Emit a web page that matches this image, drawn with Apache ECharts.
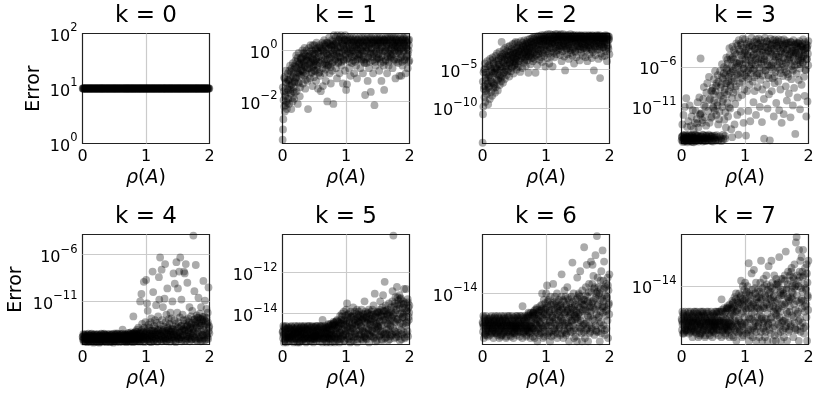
<!DOCTYPE html>
<html>
<head>
<meta charset="utf-8">
<style>html,body{margin:0;padding:0;background:#fff}#chart{width:822px;height:398px}</style>
<script src="https://cdn.jsdelivr.net/npm/echarts@6/dist/echarts.min.js"></script>
</head>
<body>
<div id="chart"></div>
<script>
// spectral radius, shared by all eight panels (20 rows of 16, one row per 0.1)
const rho = [
.002,.008,.013,.021,.026,.031,.037,.044,.052,.058,.064,.069,.075,.083,.089,.096,
.103,.107,.115,.119,.128,.134,.139,.146,.151,.159,.163,.172,.178,.184,.191,.197,
.204,.209,.216,.223,.227,.236,.241,.247,.254,.261,.266,.272,.281,.286,.293,.298,
.301,.309,.313,.322,.326,.333,.342,.347,.352,.358,.365,.371,.379,.384,.392,.399,
.402,.406,.417,.421,.429,.433,.441,.448,.453,.462,.466,.473,.478,.487,.491,.498,
.503,.511,.514,.522,.529,.536,.539,.548,.552,.559,.567,.571,.578,.586,.593,.597,
.604,.608,.617,.628,.631,.637,.643,.651,.656,.662,.669,.674,.682,.688,.694,.699,
.705,.711,.718,.723,.729,.734,.742,.746,.755,.761,.767,.773,.778,.784,.792,.798,
.801,.809,.816,.821,.827,.835,.841,.847,.853,.858,.864,.872,.879,.886,.891,.897,
.903,.908,.913,.922,.928,.933,.939,.946,.952,.957,.966,.971,.977,.984,.989,.996,
1.002,1.009,1.016,1.021,1.027,1.034,1.038,1.047,1.052,1.058,1.066,1.072,1.078,1.083,1.091,1.097,
1.104,1.108,1.113,1.122,1.129,1.133,1.141,1.147,1.152,1.159,1.164,1.173,1.177,1.186,1.191,1.198,
1.203,1.209,1.217,1.222,1.226,1.234,1.241,1.246,1.253,1.262,1.267,1.272,1.279,1.287,1.292,1.297,
1.301,1.308,1.314,1.321,1.328,1.336,1.341,1.347,1.354,1.359,1.363,1.372,1.378,1.385,1.391,1.399,
1.402,1.407,1.416,1.422,1.427,1.433,1.442,1.448,1.453,1.461,1.466,1.471,1.479,1.486,1.492,1.496,
1.503,1.511,1.516,1.523,1.528,1.534,1.539,1.548,1.552,1.558,1.567,1.572,1.577,1.584,1.593,1.598,
1.601,1.609,1.614,1.622,1.627,1.636,1.642,1.647,1.651,1.659,1.663,1.672,1.678,1.685,1.691,1.697,
1.703,1.708,1.717,1.721,1.729,1.733,1.741,1.746,1.754,1.762,1.766,1.773,1.779,1.784,1.792,1.798,
1.802,1.809,1.813,1.822,1.826,1.835,1.841,1.847,1.852,1.858,1.867,1.871,1.878,1.886,1.891,1.897,
1.904,1.908,1.915,1.921,1.928,1.934,1.939,1.946,1.953,1.961,1.965,1.972,1.978,1.984,1.991,1.998
];
// more points inside the dense clouds (20 rows of 10)
const rhoCore = [
.005,.016,.028,.041,.048,.056,.067,.072,.086,.093,
.111,.124,.131,.143,.155,.167,.175,.181,.188,.194,
.206,.219,.231,.244,.251,.258,.269,.278,.289,.295,
.305,.318,.329,.338,.345,.356,.368,.375,.388,.395,
.411,.425,.437,.445,.457,.469,.476,.483,.494,.499,
.507,.518,.526,.533,.544,.556,.563,.575,.582,.591,
.612,.622,.634,.647,.659,.666,.677,.685,.691,.697,
.708,.715,.726,.738,.749,.758,.769,.776,.788,.795,
.805,.812,.824,.832,.844,.856,.868,.875,.883,.894,
.905,.917,.925,.936,.943,.955,.962,.974,.981,.992,
1.006,1.013,1.024,1.031,1.043,1.055,1.063,1.075,1.086,1.094,
1.106,1.117,1.126,1.138,1.144,1.156,1.168,1.179,1.183,1.195,
1.206,1.214,1.229,1.238,1.249,1.257,1.264,1.276,1.284,1.294,
1.304,1.317,1.325,1.332,1.344,1.356,1.367,1.375,1.388,1.395,
1.405,1.413,1.425,1.438,1.445,1.456,1.468,1.476,1.483,1.494,
1.507,1.514,1.526,1.531,1.543,1.555,1.563,1.575,1.587,1.595,
1.604,1.617,1.625,1.633,1.644,1.656,1.667,1.675,1.688,1.694,
1.705,1.714,1.724,1.737,1.743,1.757,1.764,1.776,1.787,1.795,
1.806,1.816,1.824,1.832,1.844,1.855,1.864,1.875,1.883,1.894,
1.906,1.912,1.925,1.931,1.943,1.956,1.968,1.975,1.987,1.995
];

// log10 of the error for each k, same order as rho
const err0 = [
1,1,1,1,1,1,1,1,1,1,1,1,1,1,1,1,1,1,1,1,1,1,1,1,1,1,1,1,1,1,1,1,1,1,1,1,1,1,1,1,
1,1,1,1,1,1,1,1,1,1,1,1,1,1,1,1,1,1,1,1,1,1,1,1,1,1,1,1,1,1,1,1,1,1,1,1,1,1,1,1,
1,1,1,1,1,1,1,1,1,1,1,1,1,1,1,1,1,1,1,1,1,1,1,1,1,1,1,1,1,1,1,1,1,1,1,1,1,1,1,1,
1,1,1,1,1,1,1,1,1,1,1,1,1,1,1,1,1,1,1,1,1,1,1,1,1,1,1,1,1,1,1,1,1,1,1,1,1,1,1,1,
1,1,1,1,1,1,1,1,1,1,1,1,1,1,1,1,1,1,1,1,1,1,1,1,1,1,1,1,1,1,1,1,1,1,1,1,1,1,1,1,
1,1,1,1,1,1,1,1,1,1,1,1,1,1,1,1,1,1,1,1,1,1,1,1,1,1,1,1,1,1,1,1,1,1,1,1,1,1,1,1,
1,1,1,1,1,1,1,1,1,1,1,1,1,1,1,1,1,1,1,1,1,1,1,1,1,1,1,1,1,1,1,1,1,1,1,1,1,1,1,1,
1,1,1,1,1,1,1,1,1,1,1,1,1,1,1,1,1,1,1,1,1,1,1,1,1,1,1,1,1,1,1,1,1,1,1,1,1,1,1,1
];
const err1 = [
-3.5,-3.1,-2.7,-1.6,-2.2,-1.1,-2.4,-1.8,-.8,-2,-1.3,-2.3,-1.5,-.9,-1.9,-1.2,
-2.1,-.8,-1.4,-.6,-1.7,-1,-2.3,-.7,-1.3,-2,-.5,-1.6,-.9,-1.9,-.6,-1.2,
-.4,-1.1,-.2,-1.6,-.7,-.3,-2.1,-.9,-.1,-1.3,-.5,-1.8,-.8,-.3,-1,-.6,
-.3,-.8,0,-1.3,-.5,-.1,-1,.1,-.6,-1.5,-.2,-.9,0,-.4,-1.2,-.7,
-2.3,-.4,.1,-.7,-.2,-1.1,.2,-.5,-.9,0,-.3,-1.4,.2,-.6,-.1,-.8,
.2,-.4,-.8,0,-1.2,.3,-.3,-.6,.1,-1.5,-.1,-.9,.2,-.5,-1,0,
-1.6,.1,-.4,.3,-.7,-1.4,0,-.2,.4,-.9,-.5,.2,-1.2,-.1,.3,-.6,
-2,.3,-.2,-.6,.1,.5,-.9,-.3,.2,-1.3,0,.4,-.5,-.8,.2,-.1,
-2.1,.6,.2,-.4,0,.5,-.7,.3,-.2,-1.1,.6,.1,-.5,.4,-.1,-.9,
.5,.1,-.3,.6,-.6,.3,-.1,.5,-1.3,.2,-.4,.4,0,-.8,.6,-.2,
-1.55,.4,-1.33,.1,.5,-.3,.2,-.7,.4,-.1,.5,-1,.3,0,-.5,.2,
.5,0,-.4,.3,-.9,.4,.1,-.2,.5,-.6,.2,-1.1,.4,0,-.3,.3,
.1,.5,-.2,.3,-.7,.4,0,-.4,.5,.2,-.9,.3,-.1,.5,-.5,.2,
-1.75,.4,0,-.5,.3,.5,-1.2,.1,-.3,.4,-.7,.2,.5,-.1,-1.63,.3,
.5,.1,-.4,.3,-.9,.4,-.1,-2.15,.5,.2,-.6,.4,0,-.3,.3,.5,
.2,-.3,.4,-.8,.5,0,.3,-.5,.4,-1.2,.1,.5,-.2,.3,-.6,.4,
-1.55,.4,0,.5,-.4,.2,.3,-.9,.5,-.1,.4,-.6,.2,.5,0,-.3,
.3,.5,-.2,.1,.4,-.7,.5,.2,-.4,.3,0,.5,-1.1,.2,.4,-.1,
.5,.1,.3,-.5,.4,0,-1,.2,.5,-.3,.3,-1,.4,.1,-.6,.5,
.3,0,.5,-.4,.2,.4,-.9,.1,.5,-.2,.3,-.7,.4,0,.2,-.4
];
const err2 = [
-14.5,-10.8,-9.8,-7.5,-5,-8.6,-4.2,-9.2,-6.4,-7.8,-5.4,-8.2,-3.9,-6.8,-9.5,-5.9,
-7.2,-4.4,-8.8,-3.6,-6,-7.9,-4.9,-6.6,-8.4,-3.4,-5.5,-7.4,-4.1,-6.9,-5.2,-8,
-3.2,-7.3,-4.8,-6.3,-2.9,-5.6,-7.7,-3.8,-6.1,-4.3,-2.7,-7,-5.1,-3.3,-6.5,-4.6,
-1.4,-5.8,-3,-6.7,-4,-2.4,-5.3,-3.5,-6.2,-2.2,-4.5,-3.1,-5.7,-2.6,-4.2,-3.7,
-2,-4.9,-3.2,-5.9,-1.9,-4.1,-2.8,-5.2,-3.6,-2.3,-4.6,-1.7,-3.4,-5.5,-2.5,-3.9,
-1.6,-4.4,-2.9,-1.4,-3.7,-5,-2.1,-3.2,-1.5,-4.7,-2.6,-3.9,-1.8,-3,-5.3,-2.3,
-1.3,-3.5,-2.4,-4.8,-1.5,-3,-2,-4.1,-1.2,-2.7,-3.6,-1.7,-4.5,-2.2,-3.2,-1.4,
-3.8,-1.1,-2.6,-5.4,-1.6,-3.3,-2.1,-1,-4.3,-2.9,-1.4,-3.5,-.9,-2.4,-3.9,-1.8,
-.8,-2.8,-1.5,-3.6,-.7,-5.4,-2.2,-1.2,-3.2,-.8,-4.4,-1.9,-.6,-2.6,-1.3,-3.7,
-.7,-2.4,-1.1,-3.4,-.5,-1.8,-4,-.9,-2.9,-1.4,-.5,-3.2,-2,-.8,-4.6,-1.2,
-.5,-2.6,-1.1,-3.5,-.4,-1.7,-2.9,-.7,-4.2,-1.3,-.4,-2.2,-3.3,-.9,-1.6,-.5,
-4.6,-1.2,-.5,-2.8,-.8,-3.4,-1.5,-.4,-2.1,-.7,-3,-1.1,-.4,-2.5,-1.4,-.6,
-.8,-2.2,-.5,-3.1,-1.2,-.4,-1.9,-3.9,-.7,-2.6,-1,-.4,-1.6,-3.3,-.6,-2,
-5.1,-1.1,-.5,-2.4,-.8,-3,-1.4,-.5,-1.8,-3.6,-.7,-2.2,-1,-.4,-2.8,-1.3,
-.6,-1.7,-3.2,-.5,-2.3,-.9,-4.2,-1.2,-.5,-2.7,-.8,-1.5,-3.4,-.6,-2,-1,
-.5,-2.4,-.9,-1.5,-3.8,-.6,-2,-1.1,-.5,-2.8,-.8,-1.7,-3.2,-.6,-1.3,-2.2,
-.7,-1.9,-.5,-3.4,-1.1,-2.5,-.6,-1.5,-3.9,-.8,-2.1,-.5,-1.3,-3,-.7,-1.8,
-.6,-2.3,-1,-3.5,-.5,-1.6,-2.7,-.8,-5.1,-1.2,-.6,-2,-3.1,-.9,-1.5,-.5,
-1.1,-.6,-2.4,-.8,-3.6,-1.4,-.5,-2,-6.1,-.9,-2.9,-.6,-1.7,-3.3,-.7,-1.2,
-.8,-2.1,-.6,-1.4,-3.2,-.9,-.5,-2.6,-1.1,-3.9,-.7,-1.8,-.6,-2.3,-1,-3
];
const err3 = [
-15.2,-14.8,-13.2,-15.4,-14.6,-12,-15,-14.9,-11,-15.3,-14.5,-15.1,-9.9,-14.7,-13.5,-15.2,
-14.8,-12.8,-15.3,-14.5,-10.8,-15,-14.7,-13.4,-15.2,-12.2,-14.6,-15.4,-11.4,-14.9,-13.8,-15.1,
-15,-13,-14.5,-11.5,-15.3,-14.7,-12.5,-15,-10.4,-14.6,-13.6,-15.2,-9.8,-14.8,-12,-15.1,
-4.9,-14.7,-11.8,-15.2,-13,-14.5,-10,-15,-8.5,-14.9,-12.3,-15.3,-11,-14.6,-9.2,-15.1,
-14.8,-8,-15.2,-11.5,-14.5,-7.2,-13,-15,-10,-14.7,-9,-15.3,-12.2,-14.6,-8.6,-11,
-15,-7.5,-10.2,-14.6,-6.5,-9,-15.2,-12,-8,-14.8,-10.8,-7,-13.2,-15.1,-9.5,-11.6,
-14.7,-6.5,-9.6,-8.2,-15.3,-5.6,-11,-7.4,-14.5,-10,-6,-12.6,-8.8,-15,-7,-13.6,
-4.8,-8,-6.4,-10.5,-5.5,-12.2,-7.2,-9,-3.6,-6.8,-11.2,-8.5,-5,-13.8,-7.6,-14.8,
-3.4,-6.5,-9.2,-5,-7.8,-13.2,-4.2,-10.6,-6,-8.4,-3,-5.5,-12,-7,-9.8,-14.5,
-2.6,-5.5,-8,-4,-6.8,-11.6,-3.2,-7.4,-9.5,-5,-2.4,-6.2,-13,-4.5,-8.8,-7,
-2.5,-5,-14.6,-7.2,-3.6,-9,-4.4,-6.4,-11.5,-2.8,-5.8,-8.2,-3.2,-12.8,-6.8,-4.8,
-2.3,-5.6,-3.4,-7.8,-4.5,-10.4,-2.8,-6.2,-9,-3.7,-5.1,-12,-2.5,-7,-4.2,-8.5,
-3.1,-5.4,-2.4,-6.8,-4,-11,-3.4,-7.6,-2.6,-5,-12.9,-8.8,-3.8,-6.1,-2.9,-10,
-15,-4.6,-2.3,-6.4,-3.5,-8.2,-5.2,-2.7,-11.2,-4,-7,-3.1,-9.4,-5.8,-15.2,-3.6,
-2.4,-6,-4.3,-9,-3,-7.4,-2.6,-5.4,-12.2,-3.9,-8,-2.5,-6.6,-4.7,-10.5,-3.3,
-2.7,-5.7,-3.6,-7.8,-2.5,-4.8,-11.4,-3.1,-6.3,-8.8,-4,-2.6,-13,-5.2,-3.4,-7.1,
-3.6,-11.9,-2.5,-5.9,-4.3,-3,-8.4,-6.6,-2.7,-10.2,-3.8,-5,-7.2,-2.9,-9.3,-4.4,
-3.2,-5.5,-12.3,-2.8,-7.5,-4.1,-3.5,-6.3,-10.8,-2.6,-4.9,-8.6,-3.9,-5.8,-14.4,-3.1,
-4.2,-2.9,-6.8,-3.5,-9.8,-5.1,-3,-7.6,-4.4,-2.7,-11.3,-5.6,-3.3,-4.7,-8.2,-3.8,
-3.4,-5.4,-2.5,-4.6,-7.2,-3.7,-9.6,-4.1,-6.3,-3.1,-12.2,-5,-3.6,-10.3,-4.3,-2.7
];
const err4 = [
-14.8,-15.1,-14.5,-15.3,-14.9,-14.6,-15.2,-14.7,-15,-14.5,-15.3,-14.8,-15.1,-14.6,-15,-14.9,
-15.2,-14.6,-14.9,-15.3,-14.7,-15,-14.5,-15.2,-14.8,-15.1,-14.6,-15.4,-14.9,-14.7,-15.1,-14.5,
-14.8,-15.2,-14.6,-15,-14.9,-15.3,-14.5,-14.8,-15.1,-14.7,-15.4,-14.6,-15,-14.8,-15.2,-14.5,
-15,-14.7,-15.3,-14.6,-14.9,-15.1,-14.5,-15.2,-14.8,-14.6,-15,-15.3,-14.7,-14.9,-15.1,-14.5,
-14.7,-15.1,-14.9,-14.5,-15.3,-14.8,-15,-14.6,-15.2,-14.9,-14.5,-15.1,-14.7,-15.4,-14.8,-15,
-15.2,-14.6,-14.9,-15,-14.4,-15.3,-14.8,-14.5,-15.1,-14.7,-15,-14.6,-15.2,-14.9,-14.5,-15.1,
-14.8,-15,-14.5,-15.3,-14,-14.7,-15.1,-14.6,-14.9,-15.2,-14.5,-14.8,-15,-14.6,-15.3,-14.7,
-15,-14.6,-15.2,-14.4,-14.9,-15.1,-14.5,-14.8,-15.3,-14.3,-15,-14.7,-15.2,-14.5,-14.9,-14.4,
-12.6,-15,-14.4,-15.3,-14.7,-14.2,-15.1,-14.5,-14.9,-14,-15.2,-14.6,-13.8,-15,-14.4,-15.3,
-14.8,-11,-14.2,-15.1,-10.2,-14.6,-13.4,-15,-14.3,-14.8,-8.9,-13.8,-15.2,-14.5,-13.2,-14.9,
-8.7,-14.2,-11.2,-15.1,-12,-14.6,-13.5,-15,-13.8,-14.4,-15.3,-13.2,-14.7,-12.8,-15,-14.1,
-7.8,-14.5,-10,-15.2,-13.6,-14.8,-13,-14.3,-15,-11.4,-14.6,-13.3,-15.3,-14.1,-12.6,-14.9,
-8.4,-10.8,-14.4,-6.3,-13.5,-15.1,-14.7,-7.6,-13,-14.2,-11.6,-15,-13.7,-14.5,-10.7,-14.9,
-7,-13.2,-15.2,-12.4,-14.4,-9.6,-13.7,-15,-14.1,-12.9,-14.6,-13.4,-15.3,-12.2,-14.2,-14.8,
-12.8,-15.1,-11,-13.6,-14.5,-8,-14.9,-13,-9.1,-14.2,-15.2,-13.4,-6.8,-14.6,-12.2,-14.9,
-9.6,-13.2,-15,-7.8,-14.3,-12.7,-6.3,-14.8,-13.6,-10.8,-15.1,-14,-12.4,-14.6,-13,-7.8,
-13.4,-8,-15.2,-14.1,-7,-13,-14.7,-13.6,-9,-15,-12.8,-14.3,-13.2,-11.6,-14.9,-13.7,
-14.4,-12.6,-15.1,-13.3,-12,-14.7,-13.8,-3.95,-14.2,-9.9,-12.9,-15,-13.5,-7.1,-14.5,-12.5,
-13.8,-15.2,-12.7,-14.4,-10.6,-13.3,-14.8,-12.3,-15,-13.6,-11.6,-14.2,-12.9,-15.2,-13.1,-14.6,
-8.8,-13.6,-14.9,-12.6,-10.9,-14.3,-13.1,-15.1,-11.8,-14.6,-13.4,-12.2,-15,-9.5,-13.8,-14.4
];
const err5 = [
-14.9,-15.2,-14.6,-15.4,-15,-14.7,-15.3,-14.8,-15.1,-14.6,-15.4,-14.9,-15.2,-14.7,-15.1,-15,
-15.2,-14.7,-15,-15.3,-14.8,-15.1,-14.6,-15.2,-14.9,-15.1,-14.7,-15.4,-15,-14.8,-15.2,-14.6,
-14.9,-15.2,-14.7,-15,-15.1,-15.4,-14.6,-14.9,-15.2,-14.8,-15.4,-14.7,-15.1,-14.9,-15.3,-14.6,
-15,-14.8,-15.3,-14.7,-15,-15.2,-14.6,-15.2,-14.9,-14.7,-15.1,-15.4,-14.8,-15,-15.2,-14.6,
-14.8,-15.2,-15,-14.6,-15.3,-14.9,-15.1,-14.7,-15.2,-15,-14.6,-15.2,-14.8,-15.4,-14.9,-15.1,
-15.2,-14.7,-15,-15.1,-14.6,-15.3,-14.9,-14.6,-15.2,-14.8,-15.1,-14.7,-15.2,-15,-14.6,-15.2,
-14.9,-15.1,-14.6,-15.4,-14.3,-14.8,-15.2,-14.7,-15,-15.2,-14.6,-14.9,-15.1,-14.7,-15.4,-14.8,
-15,-14.7,-15.2,-14.5,-15,-15.2,-14.6,-14.9,-15.4,-14.5,-15.1,-14.8,-15.2,-14.6,-15,-14.5,
-14.4,-15.1,-14.6,-15.4,-14.8,-14.4,-15.2,-14.7,-15,-14.3,-15.3,-14.7,-14.4,-15.1,-14.6,-15.4,
-14.9,-14.1,-14.5,-15.2,-14.3,-14.8,-14,-15.1,-14.5,-15,-13.9,-14.3,-15.3,-14.7,-14.1,-15,
-13.8,-14.5,-13.5,-15.2,-14.2,-14.8,-14,-15.1,-14.4,-14.7,-15.4,-13.9,-14.9,-14.2,-15.1,-14.5,
-14.1,-14.7,-13.7,-15.3,-14.3,-15,-13.9,-14.6,-15.1,-14,-14.8,-13.8,-15.4,-14.4,-14.2,-15,
-13.9,-14.4,-14.8,-14.1,-15.2,-14.6,-15,-13.8,-14.3,-14.7,-14,-15.3,-14.2,-14.9,-13.4,-15.1,
-14.4,-13.9,-15.2,-14.2,-14.7,-14,-15,-14.3,-14.8,-13.8,-15.4,-14.5,-14.1,-15.1,-14.4,-13.9,
-14.8,-15.1,-13.8,-14.4,-14.9,-13.6,-15.2,-14.2,-13.03,-14.7,-15,-14,-14.5,-15.3,-13.9,-14.6,
-14.2,-14.7,-13.9,-15.1,-14.4,-13.8,-13.4,-15,-14.6,-14.1,-15.3,-13.7,-14.9,-13.1,-14.3,-15,
-13.9,-12.45,-15.2,-14.3,-13.6,-14.8,-14,-15,-13.8,-14.5,-15.3,-14.2,-13.5,-14.9,-14.1,-15.1,
-14.6,-13.7,-15,-14.2,-13.4,-12.9,-14.7,-10.2,-14,-15.2,-13.5,-14.4,-13.2,-14.9,-13.8,-15,
-12.7,-14.3,-13.2,-15.1,-13.6,-14.6,-13.1,-15.3,-14,-13.3,-14.8,-13.5,-15,-14.2,-13.7,-14.5,
-13.4,-14.9,-12.8,-14.2,-15.2,-13.5,-14.6,-12.8,-15,-13.9,-14.4,-13.3,-15.1,-13.7,-14.3,-13.6
];
const err6 = [
-14.9,-15.2,-14.7,-15.4,-15,-14.8,-15.3,-14.9,-15.1,-14.7,-15.3,-15,-15.2,-14.8,-15.1,-14.9,
-15.2,-14.8,-15,-15.3,-14.9,-15.1,-14.7,-15.2,-15,-15.1,-14.8,-15.4,-15,-14.9,-15.2,-14.7,
-15,-15.2,-14.8,-15.1,-14.9,-15.3,-14.7,-15,-15.2,-14.9,-15.4,-14.8,-15.1,-15,-15.3,-14.7,
-15.1,-14.9,-15.3,-14.8,-15,-15.2,-14.7,-15.2,-15,-14.8,-15.1,-15.4,-14.9,-15,-15.2,-14.7,
-14.9,-15.2,-15,-14.7,-15.3,-15,-15.1,-14.8,-15.2,-15,-14.7,-15.2,-14.9,-15.4,-15,-15.1,
-15.2,-14.8,-15,-15.1,-14.7,-15.3,-15,-14.7,-15.2,-14.9,-15.1,-14.8,-15.2,-15,-14.7,-15.2,
-15,-15.1,-14.7,-15.4,-14.4,-14.9,-15.2,-14.8,-15,-15.2,-14.7,-15,-15.1,-14.8,-15.3,-14.9,
-15.1,-14.7,-15.2,-14.6,-15,-15.2,-14.7,-15,-15.4,-14.6,-15.1,-14.9,-15.2,-14.7,-15.1,-14.6,
-14.6,-15.1,-14.7,-15.4,-14.9,-14.5,-15.2,-14.8,-15,-14.5,-15.5,-14.8,-14.6,-15.1,-14.7,-15.3,
-14.9,-14.4,-14.7,-15.2,-14.5,-15,-14,-15.1,-14.6,-15.4,-14.2,-14.8,-15.2,-14.5,-14.3,-15,
-14,-14.7,-13.75,-15.3,-14.4,-15,-14.2,-15.2,-14.6,-14.9,-15.5,-14.1,-15,-14.5,-15.2,-14.7,
-14.3,-14.9,-13.7,-15.3,-14.5,-15.1,-14.1,-14.8,-15.2,-14.3,-15,-14,-15.4,-14.6,-14.4,-15.1,
-14.2,-14.7,-15,-14.4,-15.3,-14.8,-14.1,-13.4,-14.5,-14.9,-14.2,-15.4,-14.6,-15,-13.9,-15.2,
-14.6,-14.1,-15.3,-14.4,-14.9,-13.8,-15.1,-14.5,-15,-14.2,-15.5,-14.7,-14.3,-15.2,-14.6,-14.1,
-14.9,-15.2,-13.03,-14.5,-15,-14,-15.4,-14.4,-14.7,-14.8,-15.1,-14.2,-14.6,-15.5,-13.5,-14.8,
-14.4,-14.9,-14,-15.2,-14.6,-14.1,-13.3,-15.1,-14.7,-14.3,-15.5,-13.9,-15,-14.5,-14.2,-15.2,
-12.55,-14.2,-15.4,-14.5,-13.8,-14.9,-13.1,-15.1,-14.1,-14.7,-15.5,-14.3,-13.7,-15,-14.4,-15.2,
-14.7,-13,-15.1,-14.3,-13.7,-13.1,-14.8,-13.45,-14.2,-15.3,-13.8,-14.5,-12.8,-15,-14,-15.2,
-12.2,-14.4,-13.5,-15.2,-13.8,-14.7,-14,-15.5,-14.2,-13.6,-14.9,-13.3,-15.1,-14.4,-12.65,-14.6,
-13.6,-15,-13,-14.4,-15.3,-13.8,-14.7,-13.7,-15.1,-14.1,-14.5,-13.5,-15.4,-13.9,-14.3,-13.4
];
const err7 = [
-14.9,-15.2,-14.7,-15.3,-15,-14.8,-15.3,-14.9,-15.1,-14.7,-15.2,-15,-15.2,-14.8,-15.1,-14.9,
-15.2,-14.7,-15,-15.3,-14.9,-15.1,-14.7,-15.2,-15,-15.1,-14.8,-15.4,-15,-14.9,-15.2,-14.7,
-15,-15.2,-14.7,-15.1,-14.9,-15.3,-14.7,-15,-15.2,-14.9,-15.4,-14.8,-15.1,-15,-15.3,-14.7,
-15.1,-14.8,-15.3,-14.7,-15,-15.2,-14.7,-15.2,-15,-14.8,-15.1,-15.4,-14.9,-15,-15.2,-14.7,
-14.9,-15.2,-15,-14.7,-15.3,-15,-15.1,-14.8,-15.2,-15,-14.7,-15.2,-14.9,-15.4,-15,-15.1,
-15.2,-14.8,-15,-15.1,-14.7,-15.3,-15,-14.7,-15.2,-14.9,-15.1,-14.7,-15.2,-15,-14.7,-15.2,
-15,-15.1,-14.7,-15.4,-14.36,-14.9,-15.2,-14.7,-15,-15.2,-14.6,-15,-15.1,-14.7,-15.3,-14.9,
-15.1,-14.6,-15.2,-14.6,-15,-15.2,-14.6,-15,-15.4,-14.5,-15.1,-14.8,-15.2,-14.6,-15,-14.5,
-14.4,-15.1,-14.6,-15.4,-14.8,-14.3,-15.2,-14.7,-15,-14.2,-15.5,-14.7,-14.4,-15.1,-14.6,-15.3,
-14.9,-14.2,-14.5,-15.2,-14.3,-15,-13.85,-15.1,-14.5,-15.4,-14,-14.7,-15.2,-14.4,-14.1,-15,
-13.9,-14.6,-14.2,-15.3,-14.4,-15,-14,-15.2,-14.6,-13.37,-15.5,-14.2,-14.9,-14.4,-15.2,-14.6,
-13.65,-14.9,-14.1,-15.4,-14.5,-15.1,-13.55,-14.7,-15.2,-14.2,-15,-13.9,-15.5,-14.6,-14.3,-15.1,
-14.1,-14.6,-15,-14.3,-15.4,-14.8,-13.9,-14.4,-13.3,-14.9,-14.2,-15.5,-14.6,-15,-13.8,-15.2,
-14.6,-14,-15.4,-14.3,-14.9,-13.7,-15.1,-14.5,-15.5,-14.1,-15,-13.45,-14.2,-15.2,-14.6,-14,
-14.9,-15.3,-13.3,-14.4,-15,-13.9,-15.5,-14.3,-14.7,-13.7,-15.1,-14.1,-14.6,-15.5,-13.8,-14.8,
-14.4,-14.9,-13.9,-15.3,-14.6,-14,-13.2,-15.1,-14.7,-14.2,-15.5,-13.8,-15,-14.5,-14.1,-15.2,
-13.8,-14.2,-15.4,-14.5,-13.7,-14.9,-13.05,-15.1,-14.1,-14.7,-15.5,-14.3,-13.6,-15,-14.4,-15.2,
-14.7,-13.7,-15.1,-14.3,-13.6,-13.5,-14.8,-14,-14.2,-15.4,-13.8,-14.5,-13.4,-15,-14,-15.2,
-12.8,-14.4,-12.65,-15.2,-13.7,-14.7,-14,-15.5,-13,-13.6,-14.9,-13.3,-15.1,-14.4,-13.2,-14.6,
-13.6,-15,-13,-14.4,-15.3,-13.7,-14.7,-13.5,-15.1,-14.1,-14.5,-13.4,-15.5,-13.9,-14.3,-13.3
];

// same again for rhoCore
const core1 = [
-1.45,-1.95,-1.05,-1.75,-2.15,-1.25,-1.65,-2.05,-1.15,-1.55,
-1.15,-1.55,-.85,-1.35,-1.85,-1.05,-1.45,-.75,-1.25,-1.65,
-.65,-1.05,-.45,-.85,-1.25,-.55,-.95,-1.45,-.35,-.75,
-.55,-.25,-.85,-.45,-.15,-.65,-1.15,-.35,-.75,-.25,
-.25,-.55,-.05,-.45,-.85,-.15,-.65,-.35,-1.05,-.45,
-.15,-.55,.05,-.35,-.75,-.05,-.45,-.25,-.85,.15,
-.25,.05,-.55,-.05,.25,-.35,-.75,.15,-.45,-.15,
-.35,.05,-.55,.25,-.15,-.65,.15,-.25,.35,-.45,
.25,-.15,.05,-.35,.35,-.05,.15,-.25,-.45,.42,
-.25,.15,-.45,.35,-.05,.25,-.35,.05,.42,-.15,
.15,-.35,.35,-.05,.25,-.45,.05,-.15,.42,-.25,
-.05,.35,-.25,.15,-.45,.25,.05,-.35,.42,-.15,
.25,-.15,.05,-.35,.35,-.05,.15,-.25,-.45,.42,
-.35,.15,-.05,.35,-.25,.05,.25,-.45,-.15,.42,
.05,-.25,.35,-.15,.25,-.45,-.05,.15,-.35,.42,
-.15,.25,-.35,.05,.35,-.25,.15,-.05,-.45,.42,
.35,-.05,-.35,.15,.25,-.25,.05,-.45,-.15,.42,
-.25,.05,.35,-.15,.25,-.35,.15,-.05,.42,-.45,
.15,-.35,.25,-.05,.35,-.15,.05,-.25,-.45,.42,
-.05,.25,-.35,.15,.35,-.25,.05,-.15,-.45,.42
];
const core2 = [
-6.55,-5.35,-7.15,-4.85,-6.05,-7.65,-5.65,-6.85,-4.55,-7.35,
-5.75,-4.65,-6.45,-5.15,-3.75,-6.75,-4.25,-5.45,-7.05,-4.75,
-5.35,-3.85,-4.95,-6.35,-4.35,-3.55,-5.75,-4.65,-6.05,-3.65,
-4.85,-3.35,-5.45,-4.15,-2.85,-3.75,-5.05,-4.45,-3.25,-5.25,
-3.15,-4.25,-2.65,-3.75,-4.75,-3.05,-4.05,-2.75,-3.45,-4.45,
-2.45,-3.55,-4.15,-2.85,-3.35,-2.25,-4.35,-3.15,-2.65,-3.85,
-2.15,-3.25,-1.85,-2.85,-3.85,-2.45,-3.45,-1.95,-2.95,-2.35,
-1.55,-2.75,-3.25,-1.95,-2.25,-3.05,-1.35,-2.55,-1.75,-3.45,
-2.05,-1.05,-2.65,-1.45,-3.05,-1.75,-2.35,-1.15,-2.95,-1.65,
-1.25,-2.15,-.85,-2.75,-1.65,-1.05,-2.45,-1.35,-.95,-1.85,
-1.85,-.85,-2.35,-1.25,-.75,-2.05,-1.45,-2.65,-1.05,-1.65,
-1.35,-2.25,-.85,-1.75,-.65,-2.55,-1.15,-1.95,-.75,-1.55,
-1.05,-1.85,-.65,-2.35,-1.35,-.85,-2.05,-1.55,-.75,-1.25,
-1.75,-.75,-2.25,-1.15,-.65,-1.95,-1.45,-.85,-2.45,-1.05,
-.85,-1.45,-2.15,-.65,-1.25,-2.55,-.95,-1.65,-.75,-1.85,
-1.35,-.75,-1.95,-1.05,-2.35,-.65,-1.55,-.95,-2.15,-1.25,
-.95,-1.65,-.75,-2.25,-1.15,-.85,-1.85,-1.35,-.65,-2.05,
-1.45,-.85,-2.45,-1.05,-.65,-1.75,-1.25,-2.15,-.75,-1.55,
-.75,-1.95,-1.15,-.65,-2.35,-1.45,-.85,-1.75,-1.05,-2.05,
-1.25,-.85,-1.65,-2.25,-.65,-1.45,-.95,-2.05,-1.15,-.75
];
const core3 = [
-14.75,-15.15,-14.55,-15.35,-14.95,-15.05,-14.65,-15.25,-14.85,-15.45,
-15.05,-14.65,-15.25,-14.85,-15.35,-14.55,-15.15,-14.75,-14.95,-15.45,
-14.85,-15.25,-14.55,-15.05,-13.05,-14.65,-15.35,-14.95,-15.15,-11.85,
-15.15,-14.75,-12.65,-15.35,-14.55,-10.85,-14.95,-15.25,-13.35,-14.65,
-14.95,-15.25,-10.15,-14.65,-15.05,-12.35,-14.75,-8.95,-15.35,-11.15,
-9.35,-14.85,-11.45,-15.15,-8.35,-14.55,-10.45,-15.25,-7.85,-12.55,
-8.55,-14.95,-7.25,-10.35,-15.05,-6.75,-9.15,-14.65,-11.65,-8.05,
-6.15,-9.45,-5.05,-7.75,-11.05,-4.55,-8.25,-6.65,-5.85,-9.85,
-4.75,-6.25,-3.85,-7.35,-5.35,-8.85,-4.35,-6.85,-3.25,-5.85,
-3.75,-5.25,-6.55,-2.95,-4.45,-7.85,-5.65,-3.55,-6.15,-4.15,
-3.95,-5.45,-3.05,-6.65,-4.55,-7.45,-3.45,-5.15,-6.15,-4.05,
-5.35,-3.25,-6.35,-4.35,-7.25,-3.65,-5.75,-4.85,-2.85,-6.75,
-3.65,-4.95,-6.05,-2.95,-4.45,-5.55,-3.35,-7.05,-4.15,-5.25,
-5.05,-3.45,-6.45,-4.25,-2.75,-5.65,-3.85,-7.35,-4.75,-3.15,
-4.05,-5.75,-3.25,-6.25,-4.55,-3.65,-7.15,-5.15,-2.95,-4.35,
-3.35,-6.05,-4.65,-2.85,-5.35,-3.95,-6.75,-4.25,-5.55,-3.15,
-4.85,-3.25,-6.25,-4.15,-5.45,-2.95,-3.75,-6.85,-4.55,-5.05,
-3.55,-4.75,-2.85,-5.85,-3.95,-6.45,-4.35,-3.15,-5.25,-4.05,
-4.25,-3.35,-5.65,-2.95,-4.65,-3.75,-6.15,-5.15,-3.45,-4.85,
-3.05,-5.45,-3.85,-4.45,-2.85,-6.35,-3.55,-4.95,-3.25,-5.75
];
const core4 = [
-14.75,-15.05,-14.55,-15.25,-14.85,-14.65,-15.15,-14.95,-15.35,-14.45,
-15.15,-14.65,-14.95,-14.45,-15.25,-14.75,-15.05,-14.55,-15.35,-14.85,
-14.85,-15.25,-14.55,-14.95,-15.05,-14.65,-15.35,-14.75,-15.15,-14.45,
-15.05,-14.75,-15.25,-14.45,-14.85,-15.15,-14.55,-15.35,-14.95,-14.65,
-14.65,-15.15,-14.85,-15.35,-14.55,-14.95,-15.25,-14.75,-14.45,-15.05,
-15.25,-14.55,-14.95,-14.75,-15.15,-14.45,-15.05,-14.85,-15.35,-14.65,
-14.85,-15.05,-14.45,-15.25,-14.65,-14.95,-15.15,-14.55,-15.35,-14.75,
-15.15,-14.65,-14.35,-14.95,-15.25,-14.55,-14.85,-15.05,-14.45,-15.35,
-14.75,-14.35,-15.15,-14.55,-14.95,-14.25,-15.25,-14.65,-15.05,-14.45,
-14.95,-15.25,-14.45,-14.05,-14.75,-15.05,-14.25,-15.35,-14.55,-14.85,
-14.35,-15.05,-14.65,-13.95,-15.25,-14.45,-14.85,-14.15,-15.35,-14.55,
-14.75,-14.15,-15.15,-14.45,-13.85,-14.95,-14.25,-15.25,-14.55,-14.05,
-14.45,-15.05,-13.95,-14.65,-15.25,-14.25,-14.85,-14.05,-15.15,-14.35,
-14.95,-14.15,-15.25,-14.45,-13.85,-14.75,-15.05,-14.25,-14.55,-13.95,
-14.25,-14.85,-13.95,-15.15,-14.55,-14.05,-15.35,-14.35,-14.75,-13.75,
-14.65,-13.85,-15.05,-14.35,-14.85,-13.65,-15.25,-14.15,-14.55,-13.95,
-14.15,-14.95,-13.75,-15.15,-14.45,-13.55,-14.75,-14.05,-15.25,-13.85,
-14.55,-13.45,-15.05,-13.95,-14.35,-12.95,-14.85,-13.25,-15.15,-13.65,
-13.05,-14.25,-12.75,-14.95,-13.55,-12.85,-15.25,-13.35,-14.55,-12.65,
-14.05,-12.95,-15.15,-13.45,-14.45,-12.75,-14.85,-13.25,-14.15,-13.65
];
const core5 = [
-14.85,-15.05,-14.65,-15.25,-14.95,-14.75,-15.15,-15.05,-15.35,-14.65,
-15.15,-14.75,-15.05,-14.65,-15.25,-14.85,-15.05,-14.95,-15.35,-14.75,
-14.95,-15.25,-14.65,-15.05,-14.85,-14.75,-15.35,-14.95,-15.15,-14.65,
-15.05,-14.85,-15.25,-14.65,-14.95,-15.15,-14.75,-15.35,-15.05,-14.65,
-14.75,-15.15,-14.95,-15.35,-14.65,-15.05,-15.25,-14.85,-14.65,-15.05,
-15.25,-14.65,-15.05,-14.85,-15.15,-14.75,-15.05,-14.95,-15.35,-14.65,
-14.95,-15.05,-14.65,-15.25,-14.75,-14.95,-15.15,-14.65,-15.35,-14.85,
-15.15,-14.65,-14.55,-15.05,-15.25,-14.75,-14.95,-15.05,-14.55,-15.35,
-14.75,-14.45,-15.15,-14.55,-14.95,-14.35,-15.25,-14.65,-15.05,-14.45,
-14.95,-15.25,-14.45,-14.15,-14.75,-15.05,-14.35,-15.35,-14.55,-14.85,
-14.35,-15.05,-14.65,-14.05,-15.25,-14.45,-14.85,-14.15,-15.35,-14.55,
-14.75,-14.15,-15.15,-14.45,-14.95,-14.25,-14.55,-15.25,-14.35,-14.05,
-14.45,-15.05,-14.15,-14.65,-15.25,-14.25,-14.85,-14.05,-15.15,-14.35,
-14.95,-14.15,-15.25,-14.45,-13.95,-14.75,-15.05,-14.25,-14.55,-14.05,
-14.25,-14.85,-14.05,-15.15,-14.55,-14.15,-15.35,-14.35,-14.75,-13.95,
-14.65,-13.95,-15.05,-14.35,-14.85,-14.05,-15.25,-14.15,-14.55,-13.85,
-14.15,-14.95,-13.85,-15.15,-14.45,-14.05,-14.75,-13.95,-15.25,-14.35,
-14.55,-13.85,-15.05,-14.05,-14.35,-13.65,-14.85,-13.95,-15.15,-14.25,
-13.55,-14.25,-13.35,-14.95,-13.75,-14.45,-13.25,-15.25,-13.95,-14.15,
-14.05,-13.55,-15.15,-13.75,-14.45,-13.85,-14.85,-13.45,-14.15,-13.95
];
const core6 = [
-14.95,-15.05,-14.75,-15.25,-14.85,-15.15,-14.95,-15.05,-15.35,-14.85,
-15.05,-14.75,-14.95,-15.25,-14.85,-15.15,-15.05,-14.95,-14.75,-15.25,
-14.85,-15.25,-14.95,-15.05,-14.75,-15.15,-14.95,-14.85,-15.35,-15.05,
-15.05,-14.85,-15.25,-14.75,-14.95,-15.15,-14.85,-15.35,-15.05,-14.95,
-14.75,-15.15,-14.95,-15.35,-14.85,-15.05,-15.25,-14.95,-14.75,-15.05,
-15.25,-14.85,-15.05,-14.95,-15.15,-14.75,-15.05,-14.85,-15.35,-14.95,
-14.95,-15.05,-14.75,-15.25,-14.85,-14.95,-15.15,-14.75,-15.35,-15.05,
-15.15,-14.75,-14.65,-15.05,-15.25,-14.85,-14.95,-15.05,-14.65,-15.35,
-14.75,-14.55,-15.15,-14.65,-14.95,-14.45,-15.25,-14.85,-15.05,-14.55,
-14.95,-15.25,-14.55,-14.35,-14.75,-15.05,-14.45,-15.35,-14.65,-14.85,
-14.45,-15.05,-14.65,-14.25,-15.25,-14.55,-14.85,-14.35,-15.35,-14.75,
-14.75,-14.35,-15.15,-14.55,-14.95,-14.25,-14.65,-15.25,-14.45,-14.85,
-14.55,-15.05,-14.35,-14.75,-15.25,-14.45,-14.85,-14.25,-15.15,-14.65,
-14.95,-14.35,-15.25,-14.55,-14.15,-14.75,-15.05,-14.45,-14.65,-14.85,
-14.45,-14.85,-14.25,-15.15,-14.65,-14.35,-15.35,-14.55,-14.75,-14.15,
-14.65,-14.05,-15.05,-14.45,-14.85,-14.25,-15.25,-14.35,-14.55,-14.95,
-14.35,-14.95,-14.05,-15.15,-14.55,-14.25,-14.75,-13.95,-15.25,-14.45,
-14.55,-13.95,-15.05,-14.25,-14.45,-13.85,-14.85,-14.15,-15.15,-14.65,
-13.95,-14.35,-14.75,-14.05,-14.95,-14.55,-13.85,-15.25,-14.15,-14.45,
-14.25,-13.85,-15.15,-14.05,-14.55,-14.15,-14.85,-13.75,-14.35,-14.65
];
const core7 = [
-14.95,-15.05,-14.75,-15.25,-14.85,-15.15,-14.95,-15.05,-15.25,-14.85,
-15.05,-14.75,-14.95,-15.25,-14.85,-15.15,-15.05,-14.95,-14.75,-15.25,
-14.85,-15.25,-14.95,-15.05,-14.75,-15.15,-14.95,-14.85,-15.35,-15.05,
-15.05,-14.85,-15.25,-14.75,-14.95,-15.15,-14.85,-15.35,-15.05,-14.95,
-14.75,-15.15,-14.95,-15.35,-14.85,-15.05,-15.25,-14.95,-14.75,-15.05,
-15.25,-14.85,-15.05,-14.95,-15.15,-14.75,-15.05,-14.85,-15.35,-14.95,
-14.95,-15.05,-14.65,-15.25,-14.85,-14.95,-15.15,-14.75,-15.35,-15.05,
-15.15,-14.65,-14.55,-15.05,-15.25,-14.85,-14.95,-15.05,-14.65,-15.35,
-14.75,-14.45,-15.15,-14.55,-14.95,-14.35,-15.25,-14.65,-15.05,-14.45,
-14.95,-15.25,-14.45,-14.25,-14.75,-15.05,-14.35,-15.35,-14.55,-14.85,
-14.35,-15.05,-14.65,-14.15,-15.25,-14.45,-14.85,-14.25,-15.35,-14.55,
-14.75,-14.25,-15.15,-14.45,-14.95,-14.05,-14.55,-15.25,-14.35,-14.85,
-14.45,-15.05,-14.15,-14.65,-15.25,-14.35,-14.85,-14.05,-15.15,-14.55,
-14.95,-14.25,-15.25,-14.45,-13.95,-14.75,-15.05,-14.35,-14.55,-14.15,
-14.35,-14.85,-14.05,-15.15,-14.55,-14.25,-15.35,-14.45,-14.75,-13.95,
-14.65,-13.95,-15.05,-14.35,-14.85,-14.15,-15.25,-14.25,-14.55,-14.95,
-14.25,-14.95,-13.85,-15.15,-14.45,-14.05,-14.75,-13.95,-15.25,-14.35,
-14.55,-13.85,-15.05,-14.15,-14.35,-13.75,-14.85,-14.05,-15.15,-14.65,
-13.95,-14.25,-14.75,-13.85,-14.95,-14.45,-13.75,-15.25,-14.05,-14.35,
-14.15,-13.75,-15.15,-13.95,-14.55,-14.05,-14.85,-13.65,-14.25,-14.65
];

const panelErr = [err0, err1, err2, err3, err4, err5, err6, err7];
const panelCore = [[], core1, core2, core3, core4, core5, core6, core7];
const titles = ["k = 0", "k = 1", "k = 2", "k = 3", "k = 4", "k = 5", "k = 6", "k = 7"];
// axis range and tick exponents
const yLow = [0, -3.65, -14.6, -15.6, -15.6, -15.5, -15.6, -15.6];
const yHigh = [2, 0.66, -0.3, -1.75, -3.84, -10.15, -12.15, -12.58];
const yTicks = [[0, 1, 2], [-2, 0], [-10, -5], [-11, -6], [-11, -6], [-14, -12], [-14], [-14]];

const font = "DejaVu Sans";
const gridLefts = [82.5, 282.5, 482.5, 681.5];
const gridTops = [33.5, 234.5];
const chart = echarts.init(document.getElementById("chart"));

const grid = [], xAxis = [], yAxis = [], title = [], series = [];
titles.forEach(function (t, i) {
  const col = i % 4, row = Math.floor(i / 4);
  const tickVals = yTicks[i].map(function (e) { return Math.pow(10, e); });
  const points = rho.map(function (r, j) { return [r, Math.pow(10, panelErr[i][j])]; })
    .concat(panelCore[i].map(function (e, j) { return [rhoCore[j], Math.pow(10, e)]; }));

  grid.push({
    left: gridLefts[col], top: gridTops[row], width: 127, height: 110, outerBoundsMode: "none",
    show: true, borderColor: "#222", borderWidth: 1.2, backgroundColor: "#fff"
  });
  title.push({
    text: t, left: gridLefts[col] + 63.5, top: row ? 206 : 5, textAlign: "center", padding: 0,
    textStyle: { fontFamily: font, fontSize: 23, fontWeight: "normal", color: "#000" }
  });
  xAxis.push({
    type: "value", gridIndex: i, min: 0, max: 2, interval: 1,
    name: "{i|ρ}{r|(}{i|A}{r|)}", nameLocation: "middle", nameGap: 25, nameMoveOverlap: false,
    nameTextStyle: { rich: {
      i: { fontFamily: font, fontSize: 19, fontStyle: "italic", color: "#000" },
      r: { fontFamily: font, fontSize: 19, color: "#000" }
    } },
    axisLine: { show: false }, axisTick: { show: false },
    axisLabel: { fontFamily: font, fontSize: 16, color: "#000", margin: 5, hideOverlap: false, showMinLabel: true, showMaxLabel: true },
    splitLine: { show: true, showMinLine: false, showMaxLine: false, lineStyle: { color: "#cbcbcb", width: 1.2 } }
  });
  yAxis.push({
    type: "log", logBase: 10, gridIndex: i,
    min: Math.pow(10, yLow[i]), max: Math.pow(10, yHigh[i]),
    name: col === 0 ? "Error" : "", nameLocation: "middle", nameGap: row ? 57 : 39, nameMoveOverlap: false,
    nameTextStyle: { fontFamily: font, fontSize: 19, color: "#000" },
    axisLine: { show: false },
    axisTick: { show: false, customValues: tickVals },
    axisLabel: {
      customValues: tickVals, margin: 5, showMinLabel: true, showMaxLabel: true,
      formatter: function (v) {
        const e = Math.round(Math.log10(v));
        return "{b|10}{s|" + String(e).replace("-", "−") + "}";
      },
      rich: {
        b: { fontFamily: font, fontSize: 16, color: "#000", lineHeight: 22, verticalAlign: "bottom" },
        s: { fontFamily: font, fontSize: 11.5, color: "#000", lineHeight: 22, verticalAlign: "top" }
      }
    },
    // only k = 0 has ticks sitting on the frame
    splitLine: { show: true, showMinLine: i !== 0, showMaxLine: i !== 0, lineStyle: { color: "#cbcbcb", width: 1.2 } }
  });
  series.push({
    type: "scatter", xAxisIndex: i, yAxisIndex: i, symbol: "circle", symbolSize: 7.8,
    itemStyle: { color: "#000", opacity: 0.33, borderWidth: 0 },
    clip: true, silent: true, animation: false,
    data: points
  });
});

chart.setOption({ animation: false, backgroundColor: "#fff", grid, title, xAxis, yAxis, series, tooltip: { show: false } });
</script>
</body>
</html>
